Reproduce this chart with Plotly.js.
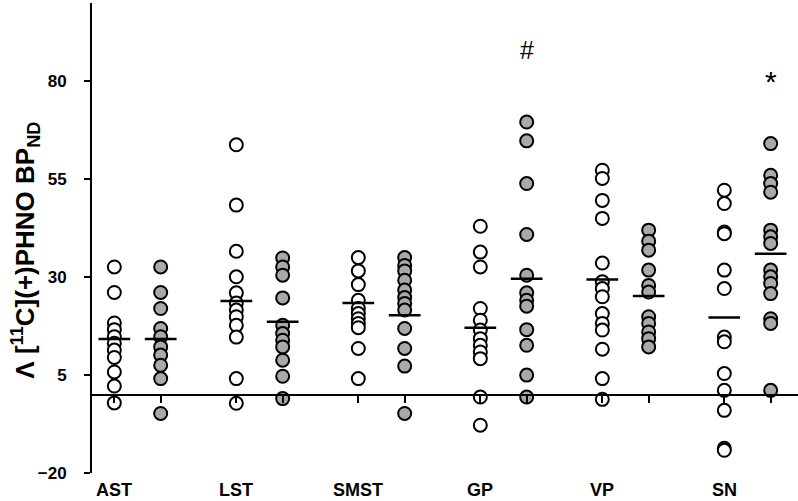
<!DOCTYPE html>
<html>
<head>
<meta charset="utf-8">
<script src="https://cdn.plot.ly/plotly-3.0.1.min.js"></script>
<style>
  html, body { margin: 0; padding: 0; background: #fff; }
  #chart { width: 798px; height: 501px; }
</style>
</head>
<body>
<div id="chart"></div>
<script>
// regions along the x axis
const categories = ["AST", "LST", "SMST", "GP", "VP", "SN"];

// change in BPND per subject, first group (open circles)
const whiteValues = [
  [32.6, 26.1, 18.3, 16.6, 14.8, 13.1, 11.4, 9.5, 5.8, 2.2, -2.1],
  [63.8, 48.4, 36.6, 30.1, 26.0, 23.4, 21.6, 19.9, 17.7, 14.7, 4.1, -2.2],
  [35.0, 31.6, 28.1, 24.1, 22.0, 20.7, 19.4, 18.2, 17.1, 11.8, 4.1],
  [43.0, 36.4, 32.6, 22.0, 19.0, 16.5, 14.3, 12.6, 10.9, 9.2, -0.6, -7.8],
  [57.3, 55.2, 49.6, 45.0, 33.6, 28.8, 27.1, 25.0, 20.7, 18.2, 16.5, 11.6, 4.1, -1.2],
  [52.2, 48.8, 41.5, 41.1, 31.8, 27.1, 14.7, 13.5, 5.4, 1.1, -4.0, -13.7, -14.2]
];

// second group (grey circles)
const greyValues = [
  [32.6, 26.1, 22.0, 16.9, 14.8, 12.2, 10.1, 7.5, 4.1, -4.8],
  [34.9, 32.6, 30.5, 24.7, 17.7, 15.6, 13.9, 12.2, 8.8, 4.7, -1.0],
  [35.0, 33.0, 31.6, 29.2, 26.7, 24.8, 23.3, 21.6, 16.9, 11.8, 7.3, -4.8],
  [69.6, 64.8, 53.9, 40.9, 30.5, 26.0, 24.1, 22.6, 16.6, 12.6, 5.0, -0.6],
  [42.0, 39.2, 36.9, 31.8, 27.9, 26.2, 19.9, 18.2, 16.0, 14.3, 12.2],
  [64.1, 56.0, 53.9, 51.7, 42.0, 40.3, 38.6, 31.8, 30.1, 28.4, 25.8, 19.4, 18.2, 1.1]
];

// group means (horizontal bars)
const whiteMeans = [14.2, 23.9, 23.4, 17.1, 29.4, 19.7];
const greyMeans = [14.2, 18.6, 20.3, 29.6, 25.2, 36.0];

// significance marks above grey columns
const markText = ["", "", "", "#", "", "*"];
const markY = [null, null, null, 88, null, 80];

const yMin = -20, yMax = 100;
const xMin = -0.373, xMax = 5.414;
const offset = 0.19;     // half distance between the two columns of a region
const halfBar = 0.13;    // half width of the mean bar

const whiteX = categories.map((c, i) => i - offset);
const greyX = categories.map((c, i) => i + offset);

function points(values, xs) {
  let x = [], y = [];
  values.forEach((vals, i) => {
    vals.forEach(v => { x.push(xs[i]); y.push(v); });
  });
  return { x: x, y: y };
}

function meanBars(means, xs) {
  let x = [], y = [];
  means.forEach((m, i) => {
    x.push(xs[i] - halfBar, xs[i] + halfBar, null);
    y.push(m, m, null);
  });
  return { x: x, y: y };
}

const wp = points(whiteValues, whiteX);
const gp = points(greyValues, greyX);
const wm = meanBars(whiteMeans, whiteX);
const gm = meanBars(greyMeans, greyX);

const markerLine = { color: "#000", width: 2 };

const data = [
  {
    x: wp.x, y: wp.y, type: "scatter", mode: "markers",
    marker: { size: 13, color: "#ffffff", line: markerLine },
    hoverinfo: "y"
  },
  {
    x: gp.x, y: gp.y, type: "scatter", mode: "markers",
    marker: { size: 13, color: "#a9a9a9", line: markerLine },
    hoverinfo: "y"
  },
  {
    x: wm.x.concat(gm.x), y: wm.y.concat(gm.y), type: "scatter", mode: "lines",
    line: { color: "#000", width: 2.5 }, hoverinfo: "skip"
  }
];

const fam = "Liberation Sans, Arial, sans-serif";
const tickFont = { family: fam, size: 17, color: "#000", weight: "bold" };
const catFont = { family: fam, size: 18, color: "#000", weight: "bold" };

let annotations = [];
categories.forEach((c, i) => {
  annotations.push({
    x: whiteX[i], y: 0, xref: "x", yref: "paper",
    text: c, showarrow: false, xanchor: "center", yanchor: "middle",
    yshift: -17, font: catFont
  });
  if (markText[i]) {
    annotations.push({
      x: greyX[i], y: markY[i], xref: "x", yref: "y",
      text: markText[i], showarrow: false, xanchor: "center", yanchor: "middle",
      font: { family: fam, size: markText[i] === "*" ? 30 : 25, color: "#000" }
    });
  }
});
// y axis title
annotations.push({
  x: -0.095, y: 37, xref: "paper", yref: "y",
  text: "Λ [<sup>11</sup>C](+)PHNO BP<sub>ND</sub>", textangle: -90,
  showarrow: false, xanchor: "center", yanchor: "middle",
  font: { family: fam, size: 26, color: "#000", weight: "bold" }
});

const layout = {
  width: 798, height: 501,
  margin: { l: 92, r: 0, t: 3, b: 28 },
  paper_bgcolor: "#fff", plot_bgcolor: "#fff",
  showlegend: false,
  xaxis: {
    range: [xMin, xMax],
    anchor: "free",
    position: (0 - yMin) / (yMax - yMin),
    showline: true, linecolor: "#000", linewidth: 2,
    ticks: "outside", ticklen: 7, tickwidth: 2, tickcolor: "#000",
    tickvals: whiteX.concat(greyX),
    showticklabels: false, showgrid: false, zeroline: false
  },
  yaxis: {
    range: [yMin, yMax],
    tick0: -20, dtick: 25,
    showline: true, linecolor: "#000", linewidth: 2,
    ticks: "outside", ticklen: 6, tickwidth: 2, tickcolor: "#000",
    ticklabelstandoff: 14,
    tickfont: tickFont,
    showgrid: false, zeroline: false
  },
  annotations: annotations
};

Plotly.newPlot("chart", data, layout, { displayModeBar: false, staticPlot: true });
</script>
</body>
</html>
